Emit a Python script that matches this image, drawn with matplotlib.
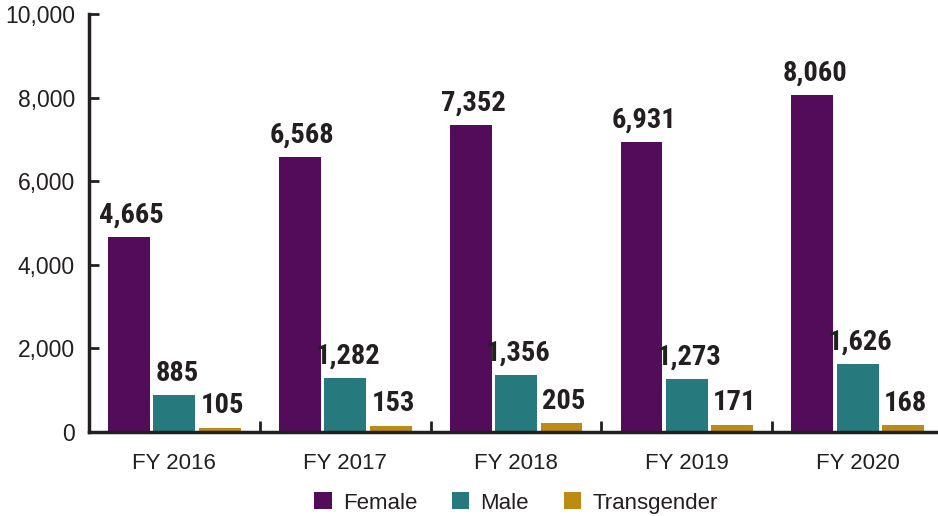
import matplotlib
matplotlib.use("Agg")
import matplotlib.pyplot as plt
from matplotlib import font_manager as fm
import numpy as np

categories = ["FY 2016", "FY 2017", "FY 2018", "FY 2019", "FY 2020"]
female = [4665, 6568, 7352, 6931, 8060]
male = [885, 1282, 1356, 1273, 1626]
transgender = [105, 153, 205, 171, 168]
series_names = ["Female", "Male", "Transgender"]
colors = ["#520C5A", "#267A7E", "#BD8A12"]
yticks = [0, 2000, 4000, 6000, 8000, 10000]

dark = "#231F20"

# find a condensed bold face if one is installed
prefs = ["robotocondensed-bold", "liberationsansnarrow-bold", "opensans-condbold",
         "opensanscondensed-bold", "dejavusanscondensed-bold"]
files = fm.findSystemFonts()
lower = {}
for f in files:
    base = f.lower().replace(" ", "").split("/")[-1].rsplit(".", 1)[0]
    lower[base] = f
label_prop = None
for p in prefs:
    if p in lower:
        size = 19.5 if "dejavu" in p else 20.5
        label_prop = fm.FontProperties(fname=lower[p], size=size)
        break
if label_prop is None:
    label_prop = fm.FontProperties(family="Liberation Sans", weight="bold", size=18)

fig = plt.figure(figsize=(9.38, 5.16), dpi=100)
ax = fig.add_axes([89/938, 1-432/516, 1-89/938, (432-14)/516])

x = np.arange(len(categories))
w = 0.245
step = 0.266
for i, (vals, c) in enumerate(zip([female, male, transgender], colors)):
    xs = x + (i - 1) * step
    ax.bar(xs, vals, width=w, color=c, label=series_names[i], zorder=2)
    for xi, v in zip(xs, vals):
        ax.text(xi + 0.015, v + 200, f"{v:,}", ha="center", va="bottom", color=dark,
                fontproperties=label_prop)

ax.set_xlim(-0.5, 4.47)
ax.set_ylim(0, 10000)
ax.set_yticks(yticks)
ax.set_yticklabels([f"{t:,}" for t in yticks], family=["Liberation Sans", "DejaVu Sans"],
                   fontsize=16.5, color=dark)
ax.set_xticks(x)
ax.set_xticklabels(categories, family=["Liberation Sans", "DejaVu Sans"], fontsize=16, color=dark)
ax.set_xticks(np.arange(0.5, 4.0, 1.0), minor=True)
ax.tick_params(axis="x", which="major", length=0, pad=15)
ax.tick_params(axis="x", which="minor", direction="in", length=8, width=2, color=dark)
ax.tick_params(axis="y", direction="in", length=7, width=2, color=dark, pad=10)

for s in ["top", "right"]:
    ax.spines[s].set_visible(False)
for s in ["left", "bottom"]:
    ax.spines[s].set_linewidth(2.5)
    ax.spines[s].set_color(dark)
ax.spines["left"].set_zorder(3)

handles, labels = ax.get_legend_handles_labels()
fig.legend(handles, labels, loc="lower center", bbox_to_anchor=(0.55, -0.034), ncol=3,
           frameon=False, handlelength=0.8, handleheight=0.8, handletextpad=0.5,
           columnspacing=1.55, prop={"family": ["Liberation Sans", "DejaVu Sans"], "size": 16},
           labelcolor=dark)

fig.savefig("out.png", dpi=100)
